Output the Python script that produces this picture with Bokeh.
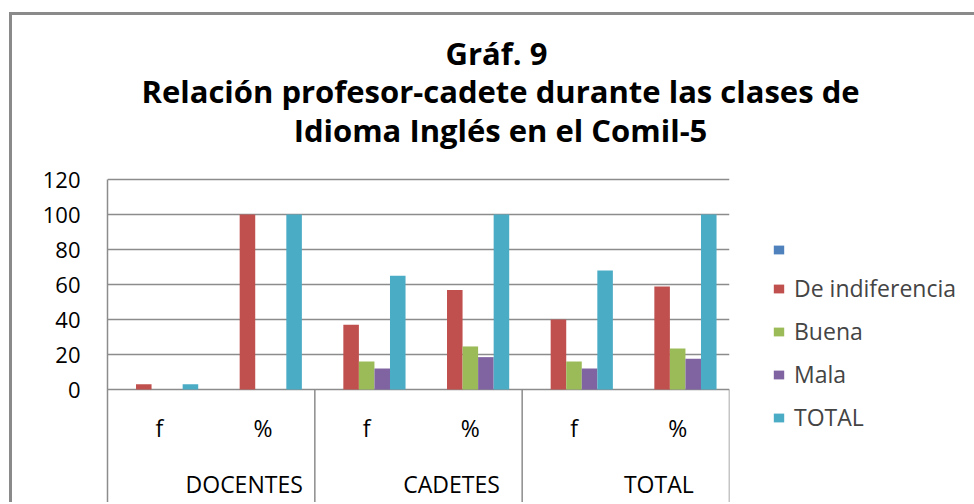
from bokeh.plotting import figure
from bokeh.models import (ColumnDataSource, FactorRange, Range1d, FixedTicker,
                          Legend, LegendItem, Label, InlineStyleSheet)
from bokeh.transform import dodge
from bokeh.core.properties import value
from bokeh.embed import file_html
from bokeh.resources import INLINE

# ---- data ----
groups = ["DOCENTES", "CADETES", "TOTAL"]
subs = ["f", "%"]
series_names = ["", "De indiferencia", "Buena", "Mala", "TOTAL"]
blank = [None, None, None, None, None, None]
indiferencia = [3, 100, 37, 56.9, 40, 58.8]
buena = [0, 0, 16, 24.6, 16, 23.5]
mala = [0, 0, 12, 18.5, 12, 17.6]
total = [3, 100, 65, 100, 68, 100]
y_ticks = [0, 20, 40, 60, 80, 100, 120]
title_lines = ["Gráf.  9",
               "Relación profesor-cadete durante las clases de",
               "Idioma Inglés en el Comil-5"]

colors = ["#4F81BD", "#C0504D", "#9BBB59", "#8064A2", "#4BACC6"]
FONT = "Open Sans"
GRAY = "#8c8c8c"

factors = [(g, s) for g in groups for s in subs]
cols = ["s0", "s1", "s2", "s3", "s4"]
source = ColumnDataSource(dict(x=factors,
                               s0=[float("nan") if v is None else v for v in blank],
                               s1=indiferencia, s2=buena, s3=mala, s4=total))

# ---- layout (pixels) ----
PX_PER_UNIT = 1.75          # vertical pixels per value unit
FRAME_TOP, FRAME_BOTTOM = 177, 502
ZERO_PX = 389               # pixel row of the value 0
FRAME_W = 622
LEFT = 107
y_top = (ZERO_PX - FRAME_TOP) / PX_PER_UNIT
y_bottom = (ZERO_PX - FRAME_BOTTOM) / PX_PER_UNIT
y_max = max(y_ticks)

p = figure(frame_width=FRAME_W, frame_height=FRAME_BOTTOM - FRAME_TOP,
           x_range=FactorRange(*factors, factor_padding=0, group_padding=0,
                               subgroup_padding=0, range_padding=0),
           y_range=Range1d(y_bottom, y_top),
           x_axis_location=None, output_backend="svg", toolbar_location=None,
           min_border_left=LEFT, min_border_right=243, min_border_top=FRAME_TOP,
           min_border_bottom=0)
p.title.visible = False
p.outline_line_color = None
p.background_fill_color = None
p.border_fill_color = None
p.stylesheets = [InlineStyleSheet(css=(
    ":host { background:"
    " linear-gradient(#8a8a8a, #8a8a8a) 9px 12px / 3px calc(100% - 12px) no-repeat,"
    " linear-gradient(#8a8a8a, #8a8a8a) 9px 12px / calc(100% - 9px) 3px no-repeat,"
    " white; }"))]

# y axis & grid
p.yaxis.ticker = FixedTicker(ticks=y_ticks)
p.yaxis.bounds = (y_bottom, y_max)
p.ygrid.ticker = FixedTicker(ticks=y_ticks)
p.xgrid.visible = False
p.ygrid.grid_line_color = GRAY
p.ygrid.grid_line_width = 1.5
p.yaxis.axis_line_color = GRAY
p.yaxis.axis_line_width = 1.5
p.yaxis.major_tick_line_color = None
p.yaxis.minor_tick_line_color = None
p.yaxis.major_tick_out = 0
p.yaxis.major_tick_in = 0
p.yaxis.major_label_standoff = 27
p.yaxis.major_label_text_font = FONT
p.yaxis.major_label_text_font_size = "22px"
p.yaxis.major_label_text_color = "#000000"

# bars
n = len(cols)
bw = 0.15
renderers = []
for i, c in enumerate(cols):
    off = (i - (n - 1) / 2) * bw
    r = p.vbar(x=dodge("x", off, range=p.x_range), top=c, width=bw, bottom=0,
               source=source, fill_color=colors[i], line_color=None)
    renderers.append(r)

# category separators below the zero line
bounds = [len(subs) * (k + 1) for k in range(len(groups))]
p.segment(x0=bounds, y0=[0] * len(bounds), x1=bounds, y1=[y_bottom] * len(bounds),
          line_color=GRAY, line_width=1.5)

# category labels
p.text(x=factors, y=[0] * len(factors), text=[s for g, s in factors],
       y_offset=38, text_align="center", text_baseline="middle",
       text_font=value(FONT), text_font_size="23px", text_color="#000000")
p.text(x=groups, y=[0] * len(groups), text=groups,
       x_offset=33, y_offset=94, text_align="center", text_baseline="middle",
       text_font=value(FONT), text_font_size="23px", text_color="#000000")

# title: one centred multi-line label in the panel above the plot area
title = Label(x=500 - LEFT, y=FRAME_TOP - 31, x_units="screen", y_units="screen",
              text="\n".join(title_lines), text_align="center", text_baseline="top",
              text_line_height=0.92,
              text_font=FONT, text_font_style="bold", text_font_size="31px",
              text_color="#000000")
p.add_layout(title, "above")

legend = Legend(items=[LegendItem(label=value(nm), renderers=[r])
                       for nm, r in zip(series_names, renderers)],
                location=(43, 69), glyph_width=13, glyph_height=11,
                label_text_font=FONT, label_text_font_size="23px",
                label_height=24, spacing=11, label_standoff=9,
                padding=0, margin=0, border_line_color=None,
                background_fill_alpha=0)
p.add_layout(legend, "right")

open("out.html", "w").write(file_html(p, INLINE))
